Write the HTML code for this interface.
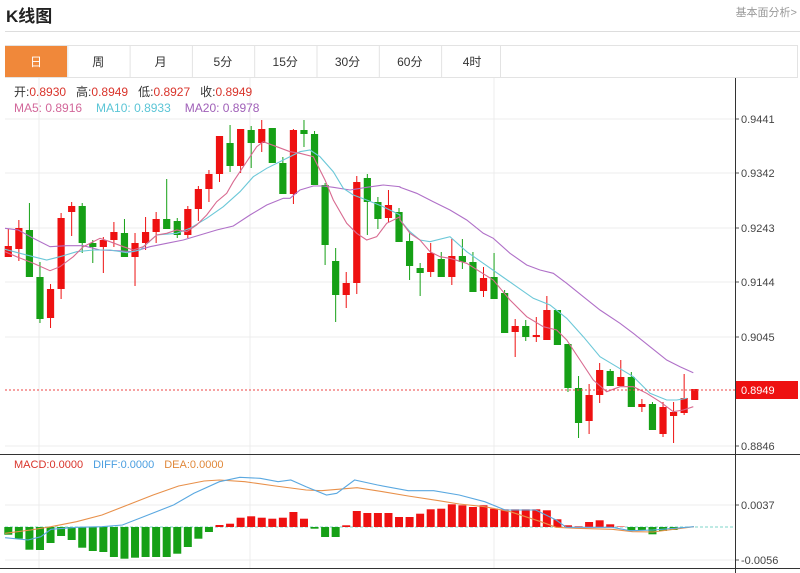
<!DOCTYPE html>
<html><head><meta charset="utf-8"><style>
body{margin:0;width:800px;height:573px;overflow:hidden;background:#fff;font-family:"Liberation Sans","Noto Sans CJK SC",sans-serif;}
svg{position:absolute;left:0;top:0}
</style></head><body>
<svg id="s" width="800" height="573" xmlns="http://www.w3.org/2000/svg" font-family="Liberation Sans, Noto Sans CJK SC, sans-serif">
<text x="6" y="22" font-size="17" font-weight="bold" fill="#222">K线图</text>
<text x="797" y="16" font-size="11" fill="#999" text-anchor="end">基本面分析&gt;</text>
<line x1="5" y1="31.5" x2="800" y2="31.5" stroke="#ddd"/>
<rect x="5.5" y="45.5" width="792" height="32" fill="none" stroke="#e3e3e3"/>
<rect x="5" y="46" width="62" height="31" fill="#f0883a"/>
<g id="tabs" font-size="12" fill="#333" text-anchor="middle"></g>
<g id="grid" stroke="#ececec"></g>
<g id="main"></g>
<text x="14" y="96" font-size="12" fill="#333">开:<tspan fill="#d9342b">0.8930</tspan><tspan dx="10">高:</tspan><tspan fill="#d9342b">0.8949</tspan><tspan dx="10">低:</tspan><tspan fill="#d9342b">0.8927</tspan><tspan dx="10">收:</tspan><tspan fill="#d9342b">0.8949</tspan></text>
<text x="14" y="112" font-size="12"><tspan fill="#d2679a">MA5: 0.8916</tspan><tspan fill="#5bc5d6" dx="14">MA10: 0.8933</tspan><tspan fill="#a060b8" dx="14">MA20: 0.8978</tspan></text>
<text x="14" y="468" font-size="11"><tspan fill="#d9342b">MACD:0.0000</tspan><tspan fill="#4a9ee0" dx="10">DIFF:0.0000</tspan><tspan fill="#e0883a" dx="10">DEA:0.0000</tspan></text>
</svg>
<script>
var s=document.getElementById('s'),NS='http://www.w3.org/2000/svg';
function el(p,t,a,txt){var e=document.createElementNS(NS,t);for(var k in a)e.setAttribute(k,a[k]);if(txt!=null)e.textContent=txt;(typeof p=='string'?document.getElementById(p):p).appendChild(e);return e;}
var tabs=['日','周','月','5分','15分','30分','60分','4时'];
tabs.forEach(function(t,i){var x=5+i*62.3;el('tabs','text',{x:x+31,y:66,fill:i==0?'#fff':'#333'},t);if(i>0)el(s,'line',{x1:x+.5,y1:46,x2:x+.5,y2:77,stroke:'#e3e3e3'});});
el(s,'line',{x1:500.5,y1:46,x2:500.5,y2:77,stroke:'#e3e3e3'});
[119,173,228,282,337,446].forEach(function(y){el('grid','line',{x1:5,y1:y,x2:735,y2:y});});
[505,560].forEach(function(y){el('grid','line',{x1:5,y1:y,x2:735,y2:y});});
[39,250,494].forEach(function(x){el('grid','line',{x1:x,y1:78,x2:x,y2:568});});
var labs=[[119,'0.9441'],[173,'0.9342'],[228,'0.9243'],[282,'0.9144'],[337,'0.9045'],[446,'0.8846'],[505,'0.0037'],[560,'-0.0056']];
labs.forEach(function(l){el(s,'line',{x1:735,y1:l[0],x2:739,y2:l[0],stroke:'#555'});el(s,'text',{x:741,y:l[0]+4,'font-size':11,fill:'#444'},l[1]);});
el(s,'line',{x1:735.5,y1:78,x2:735.5,y2:573,stroke:'#333'});
el(s,'line',{x1:0,y1:454.5,x2:800,y2:454.5,stroke:'#333'});
el(s,'line',{x1:0,y1:568.5,x2:800,y2:568.5,stroke:'#333'});
var C=[['r',246,257,229,257],['r',228,249,220,261],['g',230,277,203,277],['g',277,319,262,323],['r',289,318,284,328],['r',218,289,213,299],['r',206,212,202,236],['g',206,243,203,253],['g',243,247,240,263],['r',240,247,237,273],['r',232,240,222,247],['g',233,257,219,257],['r',243,257,233,286],['r',232,243,217,250],['r',219,232,212,243],['g',219,229,179,229],['g',221,235,218,238],['r',209,235,206,238],['r',189,209,186,221],['r',174,189,170,202],['r',136,174,136,182],['g',143,166,125,172],['r',129,166,129,173],['g',130,143,126,168],['r',129,143,120,152],['g',128,163,128,163],['g',163,194,157,194],['r',130,194,129,204],['g',130,134,120,147],['g',134,185,131,185],['g',185,245,183,265],['g',261,295,248,322],['r',283,295,272,308],['r',182,283,176,294],['g',178,202,174,235],['g',202,219,197,229],['r',205,218,190,222],['g',212,242,208,242],['g',241,266,233,280],['g',268,273,263,296],['r',253,272,243,277],['g',259,277,252,277],['r',256,277,239,285],['g',256,262,239,269],['g',262,292,252,292],['r',278,291,267,297],['g',277,299,253,299],['g',293,333,290,333],['r',326,332,319,357],['g',326,337,320,341],['r',335,337,317,342],['r',310,340,296,340],['g',310,345,310,345],['g',344,388,344,392],['g',388,423,376,438],['r',395,421,384,434],['r',370,395,363,403],['g',371,386,369,386],['r',377,386,360,386],['g',377,407,372,407],['r',404,407,399,412],['g',404,430,402,430],['r',407,434,402,437],['r',412,416,402,443],['r',398,413,374,415],['r',389,400,389,400]];
var m=document.getElementById('main');
function X(i){return 8.3+i*10.56;}
C.forEach(function(c,i){var col=c[0]=='r'?'#ee1111':'#16a016';var x=X(i);
el(m,'line',{x1:x,y1:c[3],x2:x,y2:c[4],stroke:col,'stroke-width':1});
el(m,'rect',{x:x-3.6,y:c[1],width:7.2,height:Math.max(1,c[2]-c[1]),fill:col});});
function pl(pts,sx,ox,sy,oy,col){var d=pts.map(function(p){return (p[0]/sx+ox).toFixed(1)+','+(p[1]/sy+oy).toFixed(1)}).join(' ');el(m,'polyline',{points:d,fill:'none',stroke:col,'stroke-width':1.1});}
var ma20a=[[15,385],[55,390],[100,415],[150,440],[200,437],[250,437],[300,450],[350,452],[400,455],[450,440],[500,430],[550,420],[600,405],[650,390],[700,378],[750,345],[800,315],[850,295],[870,295],[900,270],[940,258],[970,258],[1000,262],[1050,270],[1100,262],[1150,255],[1200,260]];
var ma20b=[[0,262],[50,280],[100,305],[150,330],[200,360],[250,400],[280,415],[330,460],[380,495],[420,510],[460,520],[500,550],[550,590],[600,630],[660,670],[700,700],[750,740],[800,780],[840,800],[880,818]];
var ma10a=[[15,448],[60,460],[100,470],[140,480],[180,470],[230,455],[280,450],[330,450],[380,458],[420,450],[470,405],[530,400],[570,385],[620,355],[670,320],[720,275],[760,230],[800,205],[850,180],[900,155],[930,150],[960,170],[1000,215],[1030,265],[1060,285],[1100,300],[1150,320],[1200,345]];
var ma10b=[[0,360],[30,395],[60,420],[90,425],[150,410],[200,455],[250,490],[300,525],[350,560],[400,595],[450,615],[500,655],[550,710],[600,770],[650,800],[700,830],[750,880],[800,900],[830,900],[860,895]];
var ma5a=[[15,455],[50,470],[100,490],[150,512],[180,500],[220,470],[250,440],[300,415],[330,425],[370,440],[400,450],[430,440],[470,405],[500,400],[530,390],[560,395],[590,375],[620,345],[650,305],[680,280],[700,245],[730,200],[770,140],[790,125],[830,140],[870,155],[900,160],[940,170],[975,240],[1000,300],[1040,370],[1070,400],[1100,420],[1130,410],[1160,370],[1200,350]];
var ma5b=[[0,360],[30,400],[60,420],[90,455],[120,470],[150,475],[200,490],[240,515],[280,540],[330,600],[380,650],[430,680],[470,690],[500,720],[540,780],[580,840],[620,875],[660,860],[700,860],[740,880],[780,905],[820,935],[850,930],[880,920]];
function cat(a,b){return a.map(function(p){return [p[0]/3,p[1]/3+100]}).concat(b.map(function(p){return [p[0]/3+400,p[1]/3+100]}));}
pl(cat(ma20a,ma20b),1,0,1,0,'#b070c8');
pl(cat(ma10a,ma10b),1,0,1,0,'#6cc8d8');
pl(cat(ma5a,ma5b),1,0,1,0,'#d86a90');
el(m,'line',{x1:5,y1:390,x2:735,y2:390,stroke:'#e44','stroke-dasharray':'2,2','stroke-width':1});
el(m,'rect',{x:736,y:381,width:62,height:18,fill:'#ee1111'});
el(m,'text',{x:741,y:394,'font-size':11,fill:'#fff'},'0.8949');
el(m,'line',{x1:5,y1:527,x2:735,y2:527,stroke:'#7cd6c8','stroke-dasharray':'3,2'});
var H=[7.7,11.7,22.7,23,16,9,13,20.7,24,25,30,31.7,30.7,30,30,30,26.7,20,11.7,5,-2,-3.3,-9.3,-10.7,-9.3,-8.3,-9.3,-15,-8.3,1.7,10,10,-1.7,-16,-14,-14,-14,-10,-10,-13.3,-17.7,-18.3,-22.7,-21.7,-20,-21.7,-18.3,-17.7,-17.7,-17.7,-17.7,-16.7,-7.7,-1.7,-0.7,-5,-6.7,-2.7,-0.5,3.3,3.3,7.3,4,3];
H.forEach(function(h,i){var x=X(i);var col=h>0?'#16a016':'#ee1111';el(m,'rect',{x:x-4,y:h>0?527:527+h,width:8,height:Math.abs(h),fill:col});});
var dif=[[10,293],[55,300],[80,290],[100,268],[150,262],[200,260],[240,255],[290,225],[340,195],[380,160],[430,125],[470,112],[510,115],[545,125],[570,120],[600,140],[640,165],[660,160],[695,120],[740,135],[800,152],[850,152],[900,165],[950,185],[990,210],[1050,210],[1090,240],[1110,262],[1150,262],[1200,262],[1235,272],[1280,270],[1360,260]];
var dea=[[10,280],[60,270],[100,260],[150,245],[200,225],[250,195],[300,165],[350,138],[400,123],[430,120],[480,125],[540,138],[600,150],[630,152],[700,143],[750,155],[800,168],[860,182],[900,192],[950,200],[1000,215],[1060,245],[1090,262],[1130,265],[1200,268],[1240,275],[1280,276],[1360,260]];
pl(dea,1.96,0,3,440,'#e8904a');
pl(dif,1.96,0,3,440,'#5aa8e0');
</script>
</body></html>
